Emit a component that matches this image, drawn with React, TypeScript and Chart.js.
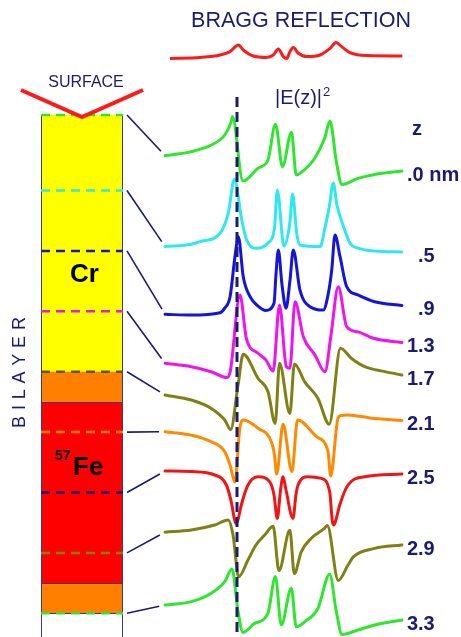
import React, { useEffect, useRef } from "react";
import { Chart, registerables } from "chart.js";

Chart.register(...registerables);

type Pt = [number, number];

// ---------- DATA ----------
const DEPTHS_NM = [0, 0.5, 0.9, 1.3, 1.7, 2.1, 2.5, 2.9, 3.3];
const DEPTH_LABELS = [".0 nm", "\u2007.5", "\u2007.9", "1.3", "1.7", "2.1", "2.5", "2.9", "3.3"];

const LAYER_TOP_NM = [0, 1.7, 1.9, 3.1];
const LAYER_BOTTOM_NM = [1.7, 1.9, 3.1, 3.3];
const LAYER_COLORS = ["#ffff00", "#ff8000", "#ff0000", "#ff8000"];

const BRAGG: Pt[] = [
  [-7.67, -0.07], [-5.64, -0.02], [-4.29, 0.1], [-3.61, 0.27], [-3.05, 0.6], [-2.72, 0.35],
  [-2.04, 0.05], [-1.14, -0.02], [-0.69, 0.1], [-0.35, 0.4], [-0.01, 0.02], [0.22, -0.07],
  [0.44, 0.27], [0.66, 0.47], [1.0, 0.19], [1.57, 0.02], [2.47, 0.1], [3.14, 0.43],
  [3.55, 0.72], [3.93, 0.52], [4.49, 0.22], [5.62, 0.07], [8.03, 0.05],
];
const BRAGG_OFFSET = 29;

const CURVE_Z00: Pt[] = [
  [-8.0, 0.77], [-6.23, 0.97], [-4.88, 1.3], [-3.97, 1.8], [-3.53, 2.47], [-3.45, 2.72],
  [-2.74, -0.5], [-1.72, 0.14], [-1.05, 0.55], [-0.54, 2.34], [-0.07, 0.22], [0.54, 1.94],
  [0.86, -0.2], [1.2, -0.07], [2.11, 0.64], [2.78, 1.64], [3.14, 2.5], [3.57, 0.47],
  [3.95, -0.68], [5.03, -0.37], [6.16, -0.17], [8.0, 0],
];
const CURVE_Z05: Pt[] = [
  [-8.0, 0.27], [-6.23, 0.39], [-5.64, 0.52], [-4.29, 0.94], [-3.73, 1.94], [-3.32, 3.64],
  [-2.82, 1.6], [-2.49, 0.6], [-1.81, 0.19], [-1.05, 0.45], [-0.61, 1.2], [-0.42, 3.1],
  [0.03, 0.3], [0.41, 1.35], [0.62, 2.9], [0.88, 1.0], [1.11, 0.35], [2.47, 0.27],
  [2.8, 1.2], [3.11, 2.35], [3.36, 3.45], [3.61, 2.35], [4.02, 1.35], [4.49, 0.44],
  [5.03, 0.19], [6.16, 0.05], [8.0, 0],
];
const CURVE_Z09: Pt[] = [
  [-8.0, -0.44], [-6.23, -0.48], [-4.29, -0.36], [-3.97, -0.13], [-3.61, 0.44], [-3.28, 2.44],
  [-3.05, 3.44], [-2.72, 1.44], [-2.26, 0.44], [-1.72, -0.03], [-1.2, -0.25], [-0.64, 0.11],
  [-0.51, 1.53], [-0.35, 2.78], [-0.1, 1.03], [0.17, -0.14], [0.44, 1.28], [0.66, 2.78],
  [1.11, 0.78], [1.79, -0.06], [2.69, -0.23], [3.01, 0.53], [3.26, 1.78], [3.48, 3.53],
  [3.82, 2.44], [4.27, 0.94], [5.03, 0.53], [6.16, 0.19], [8.0, 0],
];
const CURVE_Z13: Pt[] = [
  [-8.0, -1.04], [-6.23, -1.21], [-4.88, -1.46], [-3.82, -1.75], [-3.6, -1.45], [-2.94, 2.38],
  [-2.51, 0.21], [-1.72, -0.54], [-1.18, -0.88], [-0.7, -1.43], [-0.27, 1.88], [0.19, -1.21],
  [0.43, -1.29], [0.78, 2.04], [1.34, 0.29], [2.13, -0.63], [2.8, -1.46], [3.21, 0.38],
  [3.7, 2.79], [4.27, 0.79], [5.03, 0.53], [6.07, 0.21], [8.0, 0],
];
const CURVE_Z17: Pt[] = [
  [-8.0, -1.0], [-6.23, -1.25], [-4.88, -1.67], [-3.97, -2.25], [-3.57, -2.73], [-3.07, -0.5],
  [-2.72, 1.04], [-1.72, -0.17], [-1.05, -0.83], [-0.56, -2.42], [-0.27, 0.59], [0.43, -1.92],
  [0.74, 0.55], [1.43, -0.34], [2.33, -1.17], [3.09, -2.46], [3.85, 1.34], [4.58, 0.84],
  [5.49, 0.42], [6.84, 0.17], [8.0, 0],
];
const CURVE_Z21: Pt[] = [
  [-8.0, -0.56], [-6.23, -0.73], [-4.88, -1.06], [-3.97, -1.56], [-3.61, -2.23], [-3.28, -3.08],
  [-2.94, -0.31], [-2.7, 0.03], [-1.72, -0.39], [-0.82, -1.06], [-0.61, -1.72], [-0.46, -2.68],
  [-0.03, -0.19], [0.57, -2.56], [0.95, 0.03], [2.24, -0.81], [3.01, -1.56], [3.19, -2.78],
  [3.68, 0.11], [3.89, 0.25], [4.36, 0.28], [5.84, 0.13], [8.0, 0],
];
const CURVE_Z25: Pt[] = [
  [-8.0, 0.15], [-6.23, 0.12], [-4.65, -0.05], [-3.86, -0.55], [-3.53, -1.39], [-3.3, -2.3],
  [-3.19, -2.47], [-3.08, -2.3], [-2.85, -1.55], [-2.4, -0.55], [-1.72, -0.14], [-0.93, -0.39],
  [-0.64, -1.05], [-0.42, -2.22], [-0.2, -0.8], [-0.03, -0.14], [0.17, -0.8], [0.64, -2.22],
  [0.84, -1.05], [0.98, -0.55], [1.66, -0.14], [2.55, -0.22], [3.12, -0.89], [3.3, -2.35],
  [3.41, -2.55], [3.52, -2.35], [3.8, -1.55], [4.36, -0.55], [5.49, -0.14], [8.0, 0],
];
const CURVE_Z29: Pt[] = [
  [-8.0, 0.64], [-6.23, 0.75], [-4.65, 1.0], [-3.74, 1.25], [-3.41, 0.5], [-3.03, -1.59],
  [-2.4, -0.75], [-1.86, 0.0], [-1.27, 0.5], [-0.7, 0.94], [-0.31, -1.28], [0.43, 0.74],
  [0.73, -1.43], [1.2, -0.34], [1.88, 0.34], [2.78, 0.84], [2.96, 0.98], [3.7, -1.77],
  [4.36, -1.0], [4.72, -0.59], [6.16, -0.17], [8.0, 0],
];
const CURVE_Z33: Pt[] = [
  [-8.0, 0.75], [-6.23, 0.92], [-4.88, 1.34], [-3.97, 1.92], [-3.48, 2.55], [-3.07, 0.42],
  [-2.74, -0.62], [-1.95, -0.17], [-1.05, 0.34], [-0.55, 2.17], [-0.15, -0.25], [0.53, 1.59],
  [0.86, -0.34], [1.43, -0.09], [2.33, 0.59], [3.12, 2.29], [3.57, 0.42], [3.95, -0.72],
  [5.03, -0.5], [6.16, -0.25], [8.0, 0],
];

const CURVE_OFFSETS = [23.3, 19.25, 16.575, 14.725, 13.1, 10.825, 8.15, 4.6, 0.85];

const RESONANCE_V = -3.14;
const RESONANCE_TOP = 27;
const LABEL_V = 8.34;

// ---------- STYLE ----------
const ALL_CURVES: Pt[][] = [
  CURVE_Z00, CURVE_Z05, CURVE_Z09, CURVE_Z13, CURVE_Z17, CURVE_Z21, CURVE_Z25, CURVE_Z29, CURVE_Z33,
];
const CURVE_COLORS = ["#2fe62f", "#2fe8ee", "#1414dc", "#ee14ee", "#808014", "#ff8a00", "#f01414", "#808014", "#2fe62f"];
const MARKER_COLORS = ["#2fe62f", "#2fe8ee", "#1414dc", "#ee14ee", "#5a5a10", "#ff8a00", "#1a1a70", "#808014", "#2fe62f"];
const NAVY = "#1b1b72";
const FONT = "'Liberation Sans', Arial, Helvetica, sans-serif";

const W = 461;
const H = 637;

const diagramPlugin = {
  id: "diagram",
  beforeDatasetsDraw(chart: any) {
    const ctx = chart.ctx as CanvasRenderingContext2D;
    const sx = chart.scales.x;
    const sy = chart.scales.y;
    const sz = chart.scales.zd;
    const bottom = chart.chartArea.bottom;
    const L = 41;
    const R = 123;
    ctx.save();

    LAYER_TOP_NM.forEach((top, i) => {
      const y1 = sz.getPixelForValue(top);
      const y2 = sz.getPixelForValue(LAYER_BOTTOM_NM[i]);
      ctx.fillStyle = LAYER_COLORS[i];
      ctx.fillRect(L, y1, R - L, y2 - y1);
    });
    const yTop = sz.getPixelForValue(LAYER_TOP_NM[0]);
    ctx.strokeStyle = "#3a3a8c";
    ctx.lineWidth = 1;
    ctx.beginPath();
    ctx.moveTo(L + 0.5, yTop);
    ctx.lineTo(L + 0.5, bottom);
    ctx.moveTo(R - 0.5, yTop);
    ctx.lineTo(R - 0.5, bottom);
    LAYER_BOTTOM_NM.slice(1).forEach((b) => {
      const y = Math.round(sz.getPixelForValue(b)) + 0.5;
      ctx.moveTo(L, y);
      ctx.lineTo(R, y);
    });
    ctx.stroke();

    ctx.lineWidth = 2.5;
    ctx.setLineDash([9, 6]);
    DEPTHS_NM.forEach((z, i) => {
      const y = sz.getPixelForValue(z);
      ctx.strokeStyle = MARKER_COLORS[i];
      ctx.beginPath();
      ctx.moveTo(L, y);
      ctx.lineTo(R, y);
      ctx.stroke();
    });
    ctx.setLineDash([]);

    ctx.strokeStyle = NAVY;
    ctx.lineWidth = 1.6;
    ALL_CURVES.forEach((c, i) => {
      const x0 = R + 4;
      const y0 = sz.getPixelForValue(DEPTHS_NM[i]);
      const x1 = sx.getPixelForValue(c[0][0]);
      const y1 = sy.getPixelForValue(c[0][1] + CURVE_OFFSETS[i]);
      const dx = x1 - x0;
      const dy = y1 - y0;
      const len = Math.hypot(dx, dy) || 1;
      const g = 6;
      ctx.beginPath();
      ctx.moveTo(x0, y0);
      ctx.lineTo(x1 - (dx / len) * g, y1 - (dy / len) * g);
      ctx.stroke();
    });

    ctx.strokeStyle = "#ff1a1a";
    ctx.lineWidth = 4;
    ctx.lineJoin = "miter";
    ctx.beginPath();
    ctx.moveTo(21, 90);
    ctx.lineTo((L + R) / 2, yTop + 2);
    ctx.lineTo(143, 90);
    ctx.stroke();

    ctx.textBaseline = "alphabetic";
    ctx.fillStyle = NAVY;
    ctx.textAlign = "center";
    ctx.font = `21.5px ${FONT}`;
    ctx.fillText("BRAGG REFLECTION", 301, 27);
    ctx.font = `16px ${FONT}`;
    ctx.fillText("SURFACE", 86, 86.5);

    ctx.textAlign = "left";
    ctx.font = `20px ${FONT}`;
    const eTxt = "|E(z)|";
    ctx.fillText(eTxt, 275, 104);
    const ew = ctx.measureText(eTxt).width;
    ctx.font = `13px ${FONT}`;
    ctx.fillText("2", 275 + ew + 1, 96);

    ctx.font = `bold 20px ${FONT}`;
    ctx.fillText("z", 412, 135);

    ctx.fillStyle = "#000000";
    ctx.font = `bold 26px ${FONT}`;
    ctx.fillText("Cr", 70, 281.5);
    ctx.fillText("Fe", 73, 475);
    ctx.font = `bold 14px ${FONT}`;
    ctx.fillText("57", 55, 460);

    ctx.fillStyle = NAVY;
    ctx.font = `18px ${FONT}`;
    const word = "BILAYER";
    const spacing = 5.8;
    const widths = word.split("").map((ch) => ctx.measureText(ch).width);
    const total = widths.reduce((a, b) => a + b, 0) + spacing * (word.length - 1);
    ctx.translate(25, 372.5);
    ctx.rotate(-Math.PI / 2);
    let cx = -total / 2;
    word.split("").forEach((ch, i) => {
      ctx.fillText(ch, cx, 0);
      cx += widths[i] + spacing;
    });
    ctx.restore();
  },
  afterDatasetsDraw(chart: any) {
    const ctx = chart.ctx as CanvasRenderingContext2D;
    const sx = chart.scales.x;
    const sy = chart.scales.y;
    const bottom = chart.chartArea.bottom;
    ctx.save();
    const xr = Math.round(sx.getPixelForValue(RESONANCE_V));
    ctx.strokeStyle = NAVY;
    ctx.lineWidth = 3;
    ctx.setLineDash([10, 5]);
    ctx.beginPath();
    ctx.moveTo(xr, sy.getPixelForValue(RESONANCE_TOP));
    ctx.lineTo(xr, bottom);
    ctx.stroke();
    ctx.setLineDash([]);

    ctx.fillStyle = NAVY;
    ctx.font = `bold 20px ${FONT}`;
    ctx.textAlign = "left";
    ctx.textBaseline = "alphabetic";
    ALL_CURVES.forEach((c, i) => {
      const last = c[c.length - 1];
      const y = sy.getPixelForValue(last[1] + CURVE_OFFSETS[i]) + 9.5;
      ctx.fillText(DEPTH_LABELS[i], sx.getPixelForValue(LABEL_V), y);
    });
    ctx.restore();
  },
};

export default function App() {
  const ref = useRef<HTMLCanvasElement | null>(null);

  useEffect(() => {
    document.body.style.margin = "0";
    const canvas = ref.current;
    if (!canvas) return;

    const datasets: any[] = [];
    datasets.push({
      label: "Bragg",
      data: BRAGG.map(([v, i]) => ({ x: v, y: i + BRAGG_OFFSET })),
      borderColor: "#ff1a1a",
      borderWidth: 3,
      cubicInterpolationMode: "monotone",
      showLine: true,
      pointRadius: 0,
      fill: false,
    });
    ALL_CURVES.forEach((c, k) => {
      datasets.push({
        label: DEPTH_LABELS[k],
        data: c.map(([v, i]) => ({ x: v, y: i + CURVE_OFFSETS[k] })),
        borderColor: CURVE_COLORS[k],
        borderWidth: 3,
        cubicInterpolationMode: "monotone",
        showLine: true,
        pointRadius: 0,
        fill: false,
        borderJoinStyle: "round",
        borderCapStyle: "round",
      });
    });

    const pxPerV = 14.8;
    const centerPx = 283.5;
    const chart = new Chart(canvas, {
      type: "scatter",
      data: { datasets },
      options: {
        animation: false,
        responsive: false,
        devicePixelRatio: 1,
        layout: { autoPadding: false, padding: 0 },
        plugins: { legend: { display: false }, tooltip: { enabled: false } },
        events: [],
        scales: {
          x: { type: "linear", display: false, min: -centerPx / pxPerV, max: (W - centerPx) / pxPerV },
          y: { type: "linear", display: false, min: 0, max: H / 20 },
          zd: {
            type: "linear",
            axis: "y",
            position: "left",
            display: false,
            reverse: true,
            min: -115 / 151,
            max: (H - 115) / 151,
          },
        },
      } as any,
      plugins: [diagramPlugin as any],
    });
    return () => chart.destroy();
  }, []);

  return (
    <div style={{ width: W, height: H, background: "#ffffff" }}>
      <canvas ref={ref} width={W} height={H} style={{ display: "block" }} />
    </div>
  );
}
